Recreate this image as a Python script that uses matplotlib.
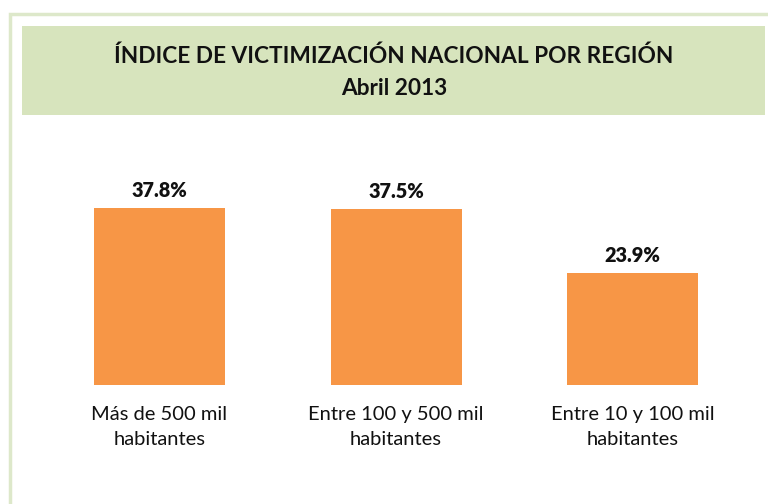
import matplotlib
matplotlib.use("Agg")
import matplotlib.pyplot as plt
from matplotlib.patches import Rectangle

categories = ["Más de 500 mil\nhabitantes", "Entre 100 y 500 mil\nhabitantes", "Entre 10 y 100 mil\nhabitantes"]
values = [37.8, 37.5, 23.9]
value_labels = ["37.8%", "37.5%", "23.9%"]
title_lines = ["ÍNDICE DE VICTIMIZACIÓN NACIONAL POR REGIÓN", "Abril 2013"]

W, H = 768, 504
fig = plt.figure(figsize=(W / 100, H / 100), dpi=100)
fig.patch.set_facecolor("white")
font = "Lato"

# outer border
fig.patches.append(Rectangle((9.5 / W, -0.1), 1.2, (H - 13.5) / H + 0.1, transform=fig.transFigure,
                             facecolor="none", edgecolor="#DDE8CA", linewidth=2.5, zorder=0))
# header box
fig.patches.append(Rectangle((22 / W, (H - 115) / H), (765 - 22) / W, (115 - 26) / H, transform=fig.transFigure,
                             facecolor="#D7E4BD", edgecolor="none", zorder=1))
fig.text(394 / W, 1 - 56 / H, title_lines[0], ha="center", va="center", fontsize=16.3,
         fontweight="bold", family=font, color="#111111")
fig.text(394 / W, 1 - 88.5 / H, title_lines[1], ha="center", va="center", fontsize=16.3,
         fontweight="bold", family=font, color="#111111")

L = 41.25
ax = fig.add_axes([L / W, (H - 385) / H, 709.5 / W, 45 * 4.68 / H])
x = list(range(len(values)))
ax.bar(x, values, width=131 / 236.5, color="#F79646", zorder=2)
ax.set_xlim(-0.5, 2.5)
ax.set_ylim(0, 45)
for xi, v, lab in zip(x, values, value_labels):
    ax.annotate(lab, (xi, v), xytext=(0, 6), textcoords="offset points", ha="center", va="bottom",
                fontsize=14.3, fontweight="heavy", family=font, color="#111111")
ax.set_xticks(x)
ax.set_xticklabels(categories, fontsize=14.5, family=font, color="#111111", linespacing=1.6)
ax.tick_params(axis="x", length=0, pad=15)
ax.set_yticks([])
for s in ax.spines.values():
    s.set_visible(False)
ax.patch.set_alpha(0)

fig.savefig("out.png", dpi=100)
